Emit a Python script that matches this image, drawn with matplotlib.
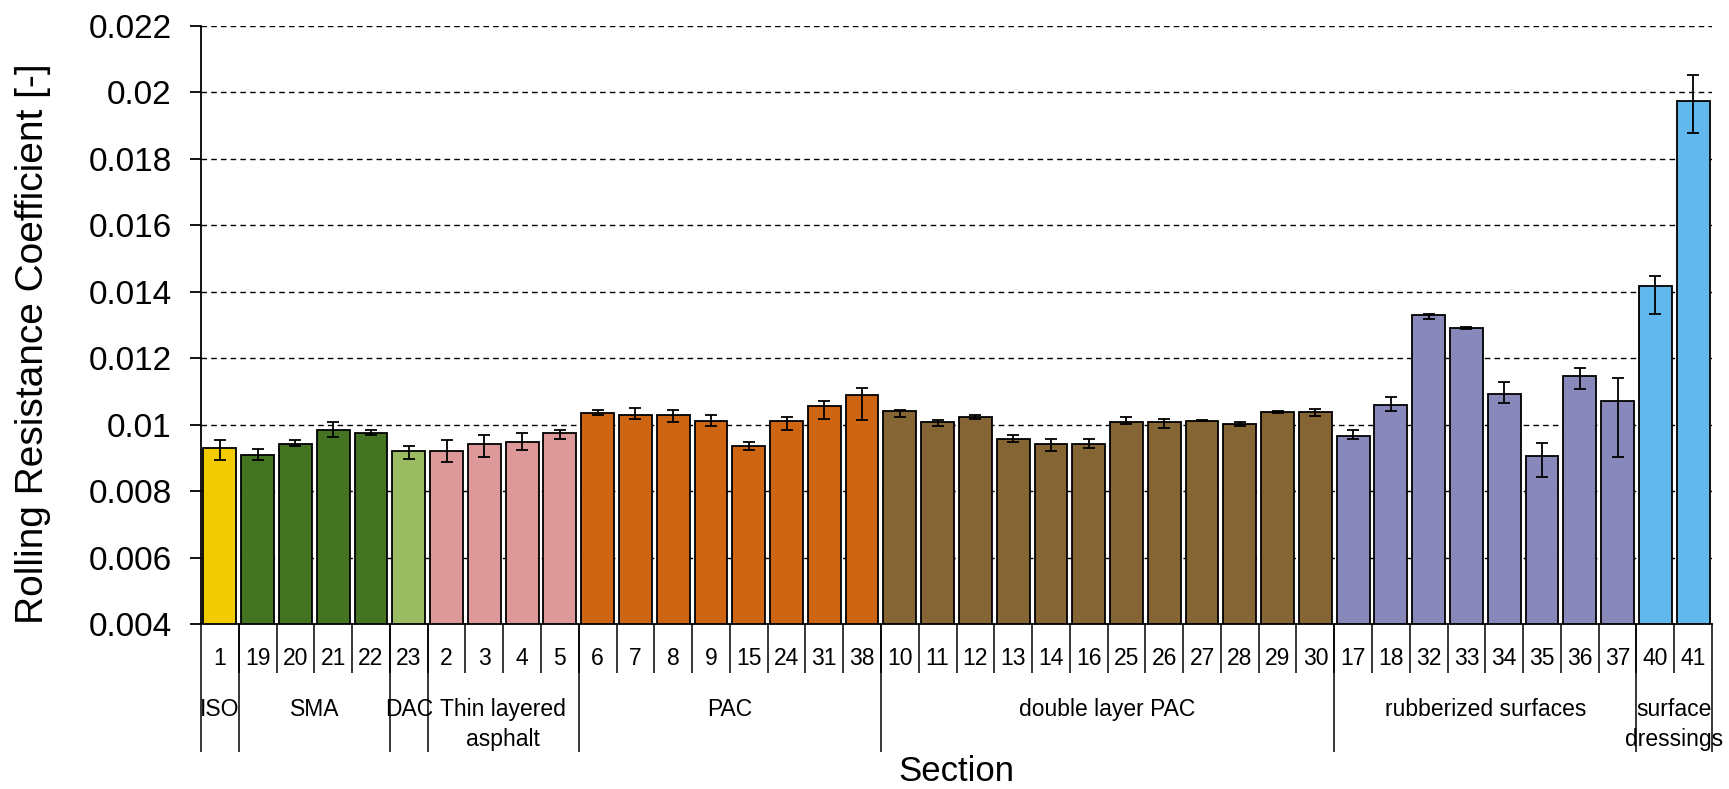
import matplotlib.pyplot as plt
import numpy as np
from matplotlib.transforms import blended_transform_factory

plt.rcParams['font.family'] = ['Liberation Sans', 'DejaVu Sans']

# section numbers in plotting order
sections = ['1', '19', '20', '21', '22', '23', '2', '3', '4', '5',
            '6', '7', '8', '9', '15', '24', '31', '38',
            '10', '11', '12', '13', '14', '16', '25', '26', '27', '28', '29', '30',
            '17', '18', '32', '33', '34', '35', '36', '37',
            '40', '41']

# surface groups and how many sections each one holds
group_names = ['ISO', 'SMA', 'DAC', 'Thin layered\nasphalt', 'PAC',
               'double layer PAC', 'rubberized surfaces', 'surface\ndressings']
group_sizes = [1, 4, 1, 4, 8, 12, 8, 2]
group_colors = ['#F0CC00', '#447422', '#9BBB62', '#DD999A', '#CD6512',
                '#866534', '#8888BB', '#60B8EC']

# mean rolling resistance coefficient
rrc = [0.00931, 0.00909, 0.00941, 0.00985, 0.00974, 0.00921, 0.00921, 0.00941, 0.00947, 0.00974,
       0.01035, 0.01029, 0.01029, 0.01012, 0.00936, 0.01012, 0.01056, 0.01089,
       0.01040, 0.01007, 0.01023, 0.00958, 0.00941, 0.00941, 0.01007, 0.01007, 0.01012, 0.01001,
       0.01038, 0.01038,
       0.00966, 0.01059, 0.01330, 0.01291, 0.01091, 0.00907, 0.01145, 0.01070,
       0.01416, 0.01973]
# error bar ends (lower, upper)
err_low = [0.00893, 0.00893, 0.00935, 0.00963, 0.00968, 0.00898, 0.00887, 0.00904, 0.00925, 0.00957,
           0.01030, 0.01018, 0.01008, 0.00995, 0.00925, 0.00985, 0.01018, 0.01013,
           0.01023, 0.00997, 0.01018, 0.00947, 0.00920, 0.00930, 0.01002, 0.00991, 0.01010, 0.00997,
           0.01036, 0.01027,
           0.00956, 0.01042, 0.01318, 0.01289, 0.01064, 0.00842, 0.01107, 0.00902,
           0.01334, 0.01877]
err_high = [0.00953, 0.00926, 0.00953, 0.01007, 0.00984, 0.00936, 0.00953, 0.00968, 0.00974, 0.00984,
            0.01044, 0.01050, 0.01045, 0.01029, 0.00947, 0.01023, 0.01072, 0.01110,
            0.01045, 0.01013, 0.01029, 0.00968, 0.00958, 0.00958, 0.01023, 0.01018, 0.01014, 0.01007,
            0.01040, 0.01047,
            0.00983, 0.01082, 0.01334, 0.01293, 0.01129, 0.00945, 0.01172, 0.01141,
            0.01448, 0.02054]

yticks = [0.004, 0.006, 0.008, 0.010, 0.012, 0.014, 0.016, 0.018, 0.020, 0.022]
ytick_labels = ['0.004', '0.006', '0.008', '0.01', '0.012', '0.014', '0.016', '0.018', '0.02', '0.022']

x = np.arange(len(sections))
rrc_a = np.array(rrc)
yerr = [rrc_a - np.array(err_low), np.array(err_high) - rrc_a]
colors = []
for c, n in zip(group_colors, group_sizes):
    colors += [c] * n

fig = plt.figure(figsize=(17.29, 7.89), dpi=100)
ax = fig.add_axes([201 / 1729, 1 - 624 / 789, 1511 / 1729, 598 / 789])

ax.bar(x, rrc, width=0.87, color=colors, edgecolor='black', linewidth=1.3,
       yerr=yerr, capsize=4.5, error_kw=dict(elinewidth=1.3, capthick=1.3, ecolor='black'),
       zorder=2)

ax.set_xlim(-0.5, len(sections) - 0.5)
ax.set_ylim(0.004, 0.022)
ax.set_yticks(yticks)
ax.set_yticklabels(ytick_labels, fontsize=24)
ax.set_xticks([])
ax.yaxis.grid(True, linestyle=(0, (4, 3)), color='black', linewidth=1.0)
ax.set_axisbelow(True)
ax.tick_params(axis='y', length=8, width=1.3, pad=13)
for s in ['top', 'right']:
    ax.spines[s].set_visible(False)
ax.spines['left'].set_linewidth(1.3)
ax.spines['bottom'].set_linewidth(1.3)

ax.set_ylabel('Rolling Resistance Coefficient [-]', fontsize=28, ha='left')
ax.yaxis.set_label_coords(-0.0993, 0.0)

# table of section numbers and groups under the axis
trans = blended_transform_factory(ax.transData, ax.transAxes)
ax.vlines(x[1:] - 0.5, -0.082, 0, transform=trans, color='black', lw=1.1, clip_on=False)
for i, s in enumerate(sections):
    ax.text(i, -0.057, s, transform=trans, ha='center', va='center', fontsize=16.5)

bounds = np.concatenate([[0], np.cumsum(group_sizes)]) - 0.5
ax.vlines(bounds, -0.214, 0, transform=trans, color='black', lw=1.1, clip_on=False)
for name, lo, hi in zip(group_names, bounds[:-1], bounds[1:]):
    ax.text((lo + hi) / 2, -0.124, name, transform=trans, ha='center', va='top',
            fontsize=16.5, linespacing=1.4)

ax.set_xlabel('Section', fontsize=25)
ax.xaxis.set_label_coords(0.5, -0.219)

fig.savefig('out.png', dpi=100)
